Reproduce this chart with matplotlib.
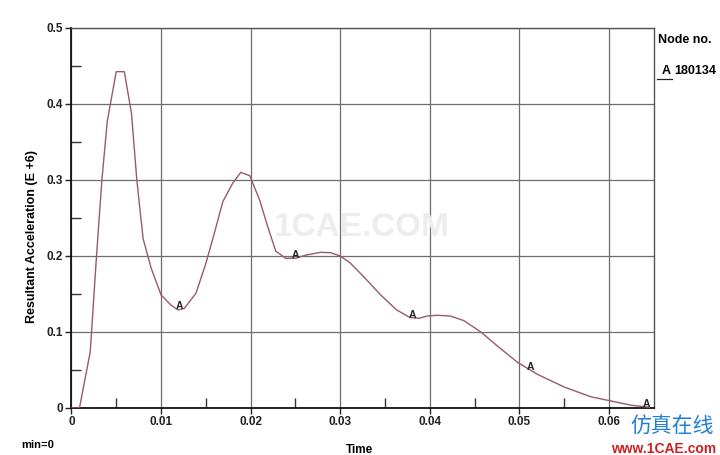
import numpy as np
import matplotlib
matplotlib.use("Agg")
import matplotlib.pyplot as plt
from matplotlib.lines import Line2D

# ---- data ----
time = [0.0, 0.0009, 0.0021, 0.0028, 0.0034, 0.0040, 0.0050, 0.0059, 0.0067, 0.0073,
        0.0080, 0.0089, 0.0100, 0.0111, 0.0119, 0.0126, 0.0139, 0.0150, 0.0160, 0.0169,
        0.0180, 0.0189, 0.0199, 0.0210, 0.0219, 0.0228, 0.0239, 0.0250, 0.0262, 0.0278,
        0.0289, 0.0300, 0.0311, 0.0326, 0.0345, 0.0363, 0.0378, 0.0388, 0.0397, 0.0408,
        0.0423, 0.0438, 0.0457, 0.0475, 0.0498, 0.0520, 0.0550, 0.0580, 0.0600, 0.0625,
        0.0645]
accel = [0.0, 0.0, 0.074, 0.200, 0.300, 0.377, 0.4425, 0.4425, 0.388, 0.300,
         0.223, 0.184, 0.149, 0.1355, 0.129, 0.131, 0.151, 0.190, 0.232, 0.2715,
         0.2957, 0.310, 0.3057, 0.274, 0.239, 0.2066, 0.197, 0.197, 0.2013, 0.2048,
         0.2044, 0.200, 0.191, 0.173, 0.149, 0.129, 0.119, 0.118, 0.121, 0.122,
         0.121, 0.115, 0.100, 0.082, 0.060, 0.0444, 0.0276, 0.0147, 0.0098, 0.0036,
         0.001]
marker_time = [0.0121, 0.0250, 0.0381, 0.0512, 0.0642]
x_ticks = [0, 0.01, 0.02, 0.03, 0.04, 0.05, 0.06]
x_tick_labels = ["0", "0.01", "0.02", "0.03", "0.04", "0.05", "0.06"]
y_ticks = [0, 0.1, 0.2, 0.3, 0.4, 0.5]
y_tick_labels = ["0", "0.1", "0.2", "0.3", "0.4", "0.5"]
node_id = "180134"

narrow = ["Liberation Sans Narrow", "Liberation Sans", "DejaVu Sans"]
plt.rcParams["font.family"] = narrow

fig = plt.figure(figsize=(7.2, 4.55), dpi=100)
ax = fig.add_axes([0.0992, 0.1033, 0.8088, 0.8352])

line_color = "#9a5a66"
ax.plot(time, accel, color=line_color, lw=1.0, zorder=3)

my = np.interp(marker_time, time, accel)
for mt, mv in zip(marker_time, my):
    ax.text(mt, mv + 0.004, "A", ha="center", va="center", fontsize=7.5,
            fontweight="bold", color="#222222", zorder=4)

ax.set_xlim(0, 0.065)
ax.set_ylim(0, 0.5)
ax.set_xticks(x_ticks)
ax.set_xticklabels(x_tick_labels)
ax.set_yticks(y_ticks)
ax.set_yticklabels(y_tick_labels)
ax.set_xticks(np.arange(0.005, 0.065, 0.01), minor=True)
ax.set_yticks(np.arange(0.05, 0.5, 0.1), minor=True)

ax.grid(True, which="major", color="#6e6e6e", lw=0.9)
ax.tick_params(which="major", direction="out", length=4, width=1, colors="#222222",
               labelsize=8.5, pad=2)
ax.tick_params(which="minor", direction="in", length=7, width=1, color="#333333")
for lab in ax.get_xticklabels() + ax.get_yticklabels():
    lab.set_fontweight("bold")

for s in ["top", "right"]:
    ax.spines[s].set_color("#555555")
    ax.spines[s].set_linewidth(1.0)
for s in ["left", "bottom"]:
    ax.spines[s].set_color("#111111")
    ax.spines[s].set_linewidth(1.3)

ax.set_ylabel("Resultant Acceleration (E +6)", fontsize=9, fontweight="bold",
              family=["Liberation Sans", "DejaVu Sans"])
ax.yaxis.set_label_coords(-0.057, 0.45)
fig.text(0.5, -0.002, "Time", ha="center", va="bottom", fontsize=8.5,
         fontweight="bold")
fig.text(0.03, 0.012, "min=0", ha="left", va="bottom", fontsize=8, fontweight="bold")

# legend text
fig.text(0.914, 0.912, "Node no.", ha="left", va="center", fontsize=9,
         fontweight="bold")
fig.text(0.919, 0.845, "A", ha="left", va="center", fontsize=9, fontweight="bold")
fig.text(0.936, 0.845, node_id, ha="left", va="center", fontsize=9,
         fontweight="bold")
fig.add_artist(Line2D([0.913, 0.934], [0.826, 0.826], transform=fig.transFigure,
                      color="#222222", lw=0.9))

# watermarks
fig.text(0.503, 0.5, "1CAE.COM", ha="center", va="center", fontsize=24,
         fontweight="bold", color="#ededed", family=["Liberation Sans", "DejaVu Sans"],
         zorder=0)
fig.text(0.933, 0.062, "仿真在线", ha="center", va="center", fontsize=15,
         color="#1f7fd6", family=["Noto Sans CJK SC", "DejaVu Sans"])
fig.text(0.921, 0.014, "www.1CAE.com", ha="center", va="center", fontsize=10,
         fontweight="bold", color="#cc2222", family=["Liberation Sans", "DejaVu Sans"])

fig.savefig("out.png", dpi=100)
